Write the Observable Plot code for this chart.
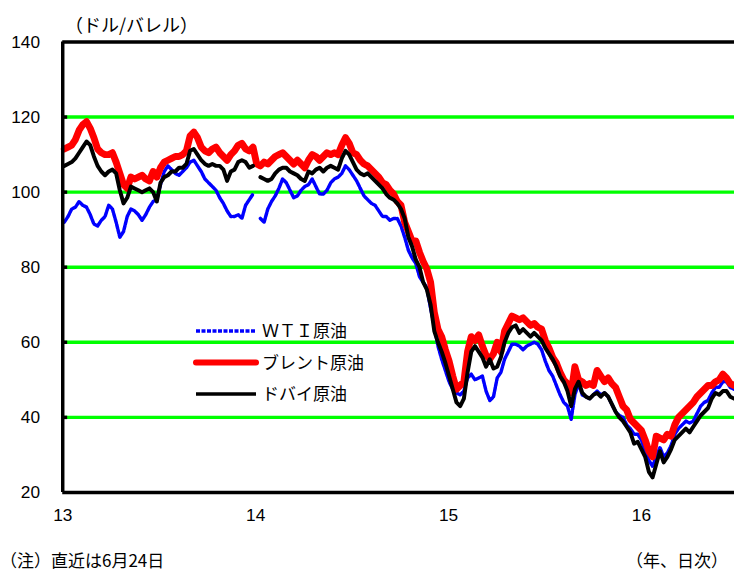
<!DOCTYPE html>
<html>
<head>
<meta charset="utf-8">
<script src="https://cdn.jsdelivr.net/npm/d3@7"></script>
<script src="https://cdn.jsdelivr.net/npm/@observablehq/plot@0.6"></script>
<style>
  html, body { margin: 0; padding: 0; background: #fff; overflow: hidden; }
  #wrap { position: relative; width: 734px; height: 572px; overflow: hidden;
          font-family: "Noto Sans CJK JP", "Noto Sans", sans-serif; color: #000; }
  #chart { position: absolute; left: 0; top: 0; }
  .note { position: absolute; font-size: 17px; line-height: 20px; white-space: nowrap; }
  #legend { position: absolute; left: 0; top: 0; }
</style>
</head>
<body>
<div id="wrap">
  <div id="chart"></div>
  <div class="note" id="unit" style="left:65px; top:14px; font-size:18px;">（ドル/バレル）</div>
  <div class="note" id="foot" style="left:0px; top:550px;">（注）直近は6月24日</div>
  <div class="note" id="axisnote" style="left:626px; top:550px;">（年、日次）</div>
</div>
<script>
// Weekly closing prices (USD/bbl), Fridays from 2013-01-04 to 2016-06-24
const firstWeek = new Date(Date.UTC(2013, 0, 4));
const lastWeek = new Date(Date.UTC(2016, 5, 24));

const seriesNames = ["ＷＴＩ原油", "ブレント原油", "ドバイ原油"];

const wti = [
  92, 93.5, 95.5, 96, 97.5, 96.5, 96, 94, 91.5, 91,
  92.5, 93.5, 96.5, 95.5, 92, 88, 89.5, 93.5, 95.5, 95,
  94, 92.5, 94, 96, 97.5, 98, 102, 105.5, 107, 106,
  105, 104.5, 105.5, 106.5, 108, 108.5, 107, 105.5, 103.5, 102.5,
  101.5, 100.5, 98.5, 97, 95, 93.5, 93.5, 94, 93, 96.5,
  98, 99.5, null, 93, 92, 95.5, 97.5, 99, 101, 103.5,
  102.5, 100.5, 98.5, 99, 100.5, 101.5, 102, 103.5, 101.5, 99.5,
  99.5, 100.5, 102.5, 103.5, 104, 105, 107, 106, 104.5, 103,
  101, 99, 98, 97, 96.5, 95, 93.5, 93.5, 92.5, 93,
  93, 91, 88, 84.5, 82.5, 81, 77.5, 76, 74.5, 69,
  64.5, 59, 55.5, 52.5, 49.5, 47.5, 46.5, 46, 47, 50.5,
  51.5, 50, 50.5, 51, 47, 44.5, 45.5, 50.5, 52, 55.5,
  57.5, 59.5, 59.5, 59, 58, 59, 59.5, 60, 59.5, 58,
  55, 52.5, 51, 48.5, 46, 44, 43, 39.5, 46, 49,
  46, 45.5, 45, 46, 47, 46, 46.5, 45.5, 43.5, 41.5,
  40.5, 40, 38, 37, 35.5, 35.5, 34, 31, 28.5, 27,
  29.5, 32, 29.5, 30.5, 32.5, 35.5, 37, 38, 39, 38.5,
  39, 41, 43, 44, 44.5, 46.5, 48, 48, 49.5, 49.5,
  48, 47.5
];

const brent = [
  111.5, 112, 112.5, 114, 116.5, 118, 118.8, 117, 114.5, 111.5,
  110.5, 110, 110, 110.5, 108, 105, 102, 101, 104, 103.5,
  104, 104.5, 103.5, 103, 105.5, 104, 106.5, 108, 108.5, 109,
  109.5, 109.5, 110, 111, 115, 116, 114.5, 112, 111, 110.5,
  111.5, 112, 110.5, 109.5, 108.5, 110, 111, 112.5, 113, 111.5,
  111, 112, 107.5, 107, 108, 107.5, 108.5, 109.5, 110, 110.5,
  109.5, 108.5, 107.5, 108.5, 107.5, 106.5, 108.5, 110, 109.5, 108.5,
  109.5, 110.5, 110, 110.5, 110, 112.5, 114.5, 113, 110.5, 110,
  108.5, 107.5, 107, 106, 105, 104, 102.5, 102, 100.5, 99.5,
  97.5, 96.5, 92, 89.5, 87, 87, 84, 81.5, 79.5, 76,
  68, 63.5, 61.5, 58, 55, 51, 47.5, 48.5, 49.5, 57.5,
  61.5, 60.5, 62, 59, 56.5, 55.5, 57, 60, 57.5, 63,
  65, 67, 66.5, 66, 66.5, 65.5, 64.5, 65, 64, 63.5,
  60.5, 58.5, 56, 54.5, 52, 50, 49, 46.5, 53.5, 50,
  49.5, 48.5, 49, 48.5, 52.5, 51, 49.5, 50.5, 49, 48,
  45.5, 43, 42, 39.5, 38.5, 37.5, 36.5, 34, 31, 29.5,
  35, 34.5, 34, 35.5, 35, 38, 40, 41, 42, 43,
  44, 45.5, 46.5, 47.5, 48.5, 48.5, 49.5, 50, 51.5, 50.5,
  49, 48.5
];

const dubai = [
  107, 107.5, 108, 109, 110.5, 112, 113.5, 112.5, 109.5, 107,
  105.5, 104.5, 105.5, 106, 105, 100.5, 97, 98.5, 101.5, 101,
  100.5, 100, 100.5, 101, 100, 97.5, 102.5, 104, 104.5, 105.5,
  105.5, 106.5, 106.5, 107.5, 111, 111.5, 110, 108.5, 107.5, 107,
  107.5, 107, 107, 106, 103, 105.5, 106, 108, 108.5, 108,
  106.5, 107, null, 104, 103.5, 103, 103.5, 105, 106, 106.5,
  106.5, 105.5, 105, 104.5, 103.5, 103, 105.5, 105, 106, 106.5,
  105.5, 106.5, 107, 106.5, 106, 109, 111, 110, 108, 106,
  105, 104.5, 105, 104, 103, 102, 101, 99.5, 98.5, 98,
  97, 95.5, 93, 88, 85.5, 82, 80, 76, 74, 70,
  63, 60, 57.5, 54.5, 51, 47.5, 44, 43, 45, 52,
  57.5, 59, 57.5, 56, 53.5, 55.5, 53, 53.5, 56, 60,
  62.5, 64, 64.5, 62.5, 63.5, 62.5, 61.5, 62.5, 61.5, 60.5,
  58.5, 57, 55.5, 53.5, 51, 49.5, 47, 43, 47.5, 49.5,
  46.5, 45.5, 45, 46, 46.5, 45.5, 46.5, 45.5, 43.5, 41.5,
  40, 39, 37.5, 36, 33, 33.5, 31.5, 29.5, 25.5, 24,
  27.5, 31, 28, 29.5, 31.5, 34, 35, 36, 37, 36,
  37.5, 39, 40.5, 41.5, 42.5, 45, 46.5, 46, 47, 47,
  45.5, 45
];

const yTicks = [20, 40, 60, 80, 100, 120, 140];
const gridValues = [40, 60, 80, 100, 120];
const xTickYears = [2013, 2014, 2015, 2016];
const xTickLabels = ["13", "14", "15", "16"];

// layout
const W = 743, H = 572;
const M = {left: 63, right: 0, top: 42, bottom: 74};
const plotW = W - M.left - M.right;

const weeks = d3.utcFriday.range(firstWeek, d3.utcDay.offset(lastWeek, 1));
const toRows = (arr, name) => arr.map((v, i) => ({date: weeks[i], value: v, name}));
const rowsWti = toRows(wti, seriesNames[0]);
const rowsBrent = toRows(brent, seriesNames[1]);
const rowsDubai = toRows(dubai, seriesNames[2]);

const xStart = new Date(Date.UTC(2013, 0, 1));
const xEnd = new Date(Date.UTC(2016, 5, 25));
const xTicks = xTickYears.map(y => new Date(Date.UTC(y, 0, 1)));

const chart = Plot.plot({
  width: W, height: H,
  marginLeft: M.left, marginRight: M.right, marginTop: M.top, marginBottom: M.bottom,
  style: {background: "#fff", fontFamily: "'Liberation Sans', Arial, sans-serif", fontSize: "17px", color: "#000", overflow: "visible"},
  x: {type: "utc", domain: [xStart, xEnd], axis: null},
  y: {domain: [20, 140], axis: null},
  marks: [
    Plot.ruleY(gridValues, {stroke: "#00ff00", strokeWidth: 3.5}),
    Plot.line(rowsWti, {x: "date", y: "value", stroke: "#0000ff", strokeWidth: 3.5,
      strokeDasharray: "4,1.5", strokeLinejoin: "round"}),
    Plot.line(rowsBrent, {x: "date", y: "value", stroke: "#ff0000", strokeWidth: 7,
      strokeLinejoin: "round", strokeLinecap: "round"}),
    Plot.line(rowsDubai, {x: "date", y: "value", stroke: "#000000", strokeWidth: 4,
      strokeLinejoin: "round", strokeLinecap: "round"}),
    Plot.ruleY([20, 140], {stroke: "#000", strokeWidth: 3.5}),
    Plot.ruleX([xStart], {stroke: "#000", strokeWidth: 3.5}),
    Plot.tickY(gridValues, {y: d => d, stroke: "#000", strokeWidth: 3.5, insetRight: plotW - 5}),
    Plot.axisY(yTicks, {tickSize: 0, tickPadding: 23, fontSize: 17.5, label: null}),
    Plot.axisX(xTicks, {tickSize: 0, tickPadding: 16, fontSize: 17.5, label: null,
      tickFormat: (d) => xTickLabels[xTicks.findIndex(t => +t === +d)]})
  ]
});
document.getElementById("chart").appendChild(chart);

// legend
const legendItems = [
  {name: seriesNames[0], stroke: "#0000ff", width: 3.5, dash: "4,1.5", cap: "butt"},
  {name: seriesNames[1], stroke: "#ff0000", width: 6, dash: null, cap: "round"},
  {name: seriesNames[2], stroke: "#000000", width: 3.5, dash: null, cap: "butt"}
];
const lg = d3.select("#wrap").append("svg").attr("id", "legend")
  .attr("width", 734).attr("height", 572);
legendItems.forEach((d, i) => {
  const cy = 331 + i * 31.5;
  lg.append("line").attr("x1", 196).attr("x2", 256).attr("y1", cy).attr("y2", cy)
    .attr("stroke", d.stroke).attr("stroke-width", d.width)
    .attr("stroke-dasharray", d.dash).attr("stroke-linecap", d.cap);
  lg.append("text").attr("x", 262).attr("y", cy).attr("dy", "0.36em")
    .attr("font-size", 17).attr("font-family", "'Noto Sans CJK JP', sans-serif")
    .text(d.name);
});
</script>
</body>
</html>
